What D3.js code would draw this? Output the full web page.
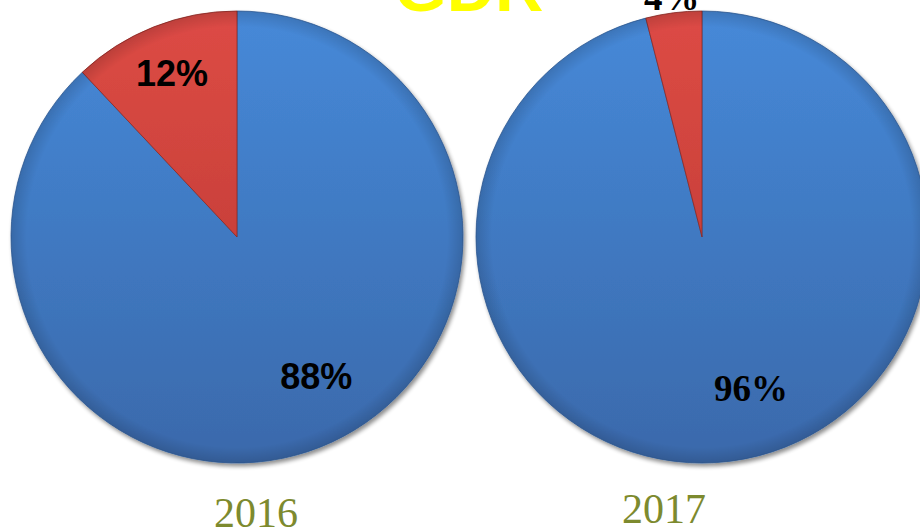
<!DOCTYPE html>
<html>
<head>
<meta charset="utf-8">
<script src="https://cdn.jsdelivr.net/npm/d3@7"></script>
<style>
  html, body { margin: 0; padding: 0; background: #ffffff; }
  svg { display: block; }
</style>
</head>
<body>
<div id="chart"></div>
<script>
// data
var years = ["2016", "2017"];
var sliceKeys = ["major", "minor"];
var majorValues = [88, 96];
var minorValues = [12, 4];
var titleText = "GDR";

function init() {
    var svgWidth = 920;
    var svgHeight = 531;
    var radius = 226;

    // pie centres across the page
    var xScale = d3.scalePoint().domain(years).range([237, 702]);
    var centreY = 237;

    var svg = d3.select("#chart").append("svg")
        .attr("width", svgWidth)
        .attr("height", svgHeight);

    var defs = svg.append("defs");

    // soft shadow under each pie
    var shadow = defs.append("filter").attr("id", "shadow")
        .attr("x", "-10%").attr("y", "-10%").attr("width", "120%").attr("height", "120%");
    shadow.append("feGaussianBlur").attr("in", "SourceAlpha").attr("stdDeviation", 2).attr("result", "b");
    shadow.append("feOffset").attr("in", "b").attr("dx", 2).attr("dy", 3).attr("result", "o");
    shadow.append("feComponentTransfer").attr("in", "o").attr("result", "s")
        .append("feFuncA").attr("type", "linear").attr("slope", 0.45);
    var merge = shadow.append("feMerge");
    merge.append("feMergeNode").attr("in", "s");
    merge.append("feMergeNode").attr("in", "SourceGraphic");

    var gradColors = {
        major: ["#4689d8", "#3a69ab"],
        minor: ["#dd4b45", "#b6362f"]
    };
    var strokeColors = { major: "#325f9c", minor: "#8e2823" };

    sliceKeys.forEach(function(k) {
        var g = defs.append("linearGradient").attr("id", "grad-" + k)
            .attr("gradientUnits", "userSpaceOnUse")
            .attr("x1", 0).attr("y1", -radius).attr("x2", 0).attr("y2", radius);
        g.append("stop").attr("offset", "0%").attr("stop-color", gradColors[k][0]);
        g.append("stop").attr("offset", "100%").attr("stop-color", gradColors[k][1]);
    });

    // rim shading to give the slight bevel
    var rim = defs.append("radialGradient").attr("id", "rim");
    rim.append("stop").attr("offset", "93%").attr("stop-color", "#000").attr("stop-opacity", 0);
    rim.append("stop").attr("offset", "100%").attr("stop-color", "#000").attr("stop-opacity", 0.14);

    var pie = d3.pie().sort(null).value(function(d) { return d.value; });
    var arc = d3.arc().innerRadius(0).outerRadius(radius);

    // label placement (radius ratio and angle nudge in radians per slice)
    var labelLayout = [
        { major: { r: 0.71, da: -0.14 }, minor: { r: 0.78, da: 0 } },
        { major: { r: 0.70, da: -0.19 }, minor: { r: 1.07, da: 0 } }
    ];
    var labelFonts = [
        "'Liberation Sans', Arial, sans-serif",
        "'Liberation Serif', 'Times New Roman', serif"
    ];

    years.forEach(function(year, i) {
        var data = [
            { key: "major", value: majorValues[i] },
            { key: "minor", value: minorValues[i] }
        ];
        var arcs = pie(data);

        var g = svg.append("g")
            .attr("transform", "translate(" + xScale(year) + "," + centreY + ")");

        var slices = g.append("g").attr("filter", "url(#shadow)");
        slices.selectAll("path")
            .data(arcs)
            .enter()
            .append("path")
            .attr("d", arc)
            .attr("fill", function(d) { return "url(#grad-" + d.data.key + ")"; })
            .attr("stroke", function(d) { return strokeColors[d.data.key]; })
            .attr("stroke-width", 0.8)
            .attr("stroke-linejoin", "round");

        g.append("circle")
            .attr("r", radius)
            .attr("fill", "url(#rim)")
            .attr("pointer-events", "none");

        // percentage labels
        g.selectAll("text.pct")
            .data(arcs)
            .enter()
            .append("text")
            .attr("class", "pct")
            .attr("transform", function(d) {
                var lay = labelLayout[i][d.data.key];
                var a = (d.startAngle + d.endAngle) / 2 + lay.da;
                var r = radius * lay.r;
                return "translate(" + (r * Math.sin(a)) + "," + (-r * Math.cos(a)) + ")";
            })
            .attr("text-anchor", "middle")
            .attr("dy", "0.36em")
            .attr("font-family", labelFonts[i])
            .attr("font-weight", "bold")
            .attr("font-size", i === 0 ? "36px" : "37px")
            .attr("fill", "#000")
            .text(function(d) { return d.data.value + "%"; });

        // year under each pie
        svg.append("text")
            .attr("x", xScale(year) + (i === 0 ? 19 : -38))
            .attr("y", i === 0 ? 527 : 523)
            .attr("text-anchor", "middle")
            .attr("font-family", "'Liberation Serif', 'Times New Roman', serif")
            .attr("font-size", "42px")
            .attr("fill", "#7d8a2e")
            .text(year);
    });

    // title, partly cut off by the top edge
    svg.append("text")
        .attr("x", 469)
        .attr("y", 11)
        .attr("text-anchor", "middle")
        .attr("font-family", "'Liberation Sans', Arial, sans-serif")
        .attr("font-weight", "bold")
        .attr("font-size", "67px")
        .attr("fill", "#ffff00")
        .text(titleText);
}
window.onload = init;
</script>
</body>
</html>
